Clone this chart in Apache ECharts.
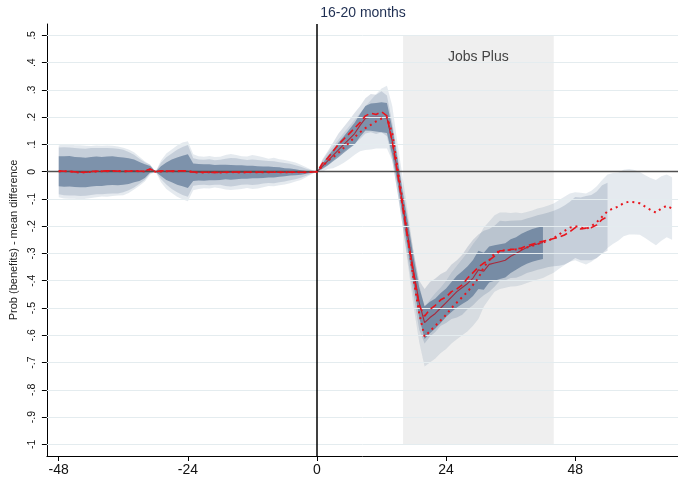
<!DOCTYPE html>
<html>
<head>
<meta charset="utf-8">
<script src="https://cdn.jsdelivr.net/npm/echarts@6/dist/echarts.min.js"></script>
<style>
  html, body { margin: 0; padding: 0; background: #fff; }
  #chart { width: 678px; height: 479px; }
</style>
</head>
<body>
<div id="chart"></div>
<script>
// Event-study estimates by month relative to event (month 0).
// Pre arrays cover months -48..-1, post arrays start at month 0.
const firstMonth = -48;
const xTicks = [-48, -24, 0, 24, 48];
const yTicks = [-1, -0.9, -0.8, -0.7, -0.6, -0.5, -0.4, -0.3, -0.2, -0.1, 0, 0.1, 0.2, 0.3, 0.4, 0.5];
const jobsPlus = { label: 'Jobs Plus', from: 16, to: 44, top: 0.5, bottom: -1 };

// Point estimates
const solidPre = [0.002,0.001,0.002,-0.001,-0.002,-0.003,0,0.002,0.001,0.003,0.004,0.002,0.002,0.002,0.003,0.001,0.002,0.009,
  0,0.002,0.002,0.003,0.002,0.003,0.002,
  -0.002,-0.002,-0.003,-0.002,-0.003,-0.002,-0.001,-0.002,-0.002,-0.001,-0.002,-0.001,-0.002,-0.002,-0.001,-0.002,-0.001,-0.002,-0.001,-0.002,-0.003,-0.002,-0.001];
const solidPost = [0,0.02,0.04,0.06,0.08,0.1,0.12,0.14,0.17,0.196,
  0.2,0.2,0.2,0.197,0.11,0,-0.13,-0.25,-0.37,-0.48,
  -0.554,-0.535,-0.52,-0.5,-0.48,-0.46,-0.44,-0.425,-0.41,-0.39,
  -0.36,-0.365,-0.34,-0.335,-0.33,-0.325,-0.31,-0.3,-0.288,-0.278,
  -0.27,-0.265,-0.26];

const dashedPre = [0.003,0.002,0.001,0,-0.002,-0.002,0.001,0.002,0.002,0.003,0.003,0.002,0.003,0.002,0.002,0.002,0.003,0.01,
  0,0.003,0.003,0.002,0.003,0.003,0.003,
  -0.001,-0.002,-0.002,-0.002,-0.003,-0.002,-0.002,-0.002,-0.001,-0.001,-0.002,-0.002,-0.002,-0.001,-0.001,-0.002,-0.002,-0.002,-0.001,-0.002,-0.002,-0.002,-0.001];
const dashedPost = [0,0.03,0.05,0.075,0.1,0.12,0.14,0.16,0.18,0.205,
  0.215,0.21,0.22,0.205,0.11,-0.01,-0.14,-0.26,-0.38,-0.49,
  -0.53,-0.505,-0.49,-0.47,-0.46,-0.44,-0.43,-0.415,-0.39,-0.37,
  -0.35,-0.335,-0.325,-0.31,-0.29,-0.29,-0.285,-0.284,-0.28,-0.272,
  -0.266,-0.26,-0.255,-0.25,-0.245,-0.24,-0.232,-0.22,-0.205,-0.21,
  -0.207,-0.205,-0.195,-0.175,-0.165];

const dottedPre = [0.001,0.002,0.001,-0.001,-0.003,-0.002,-0.001,0.001,0.002,0.002,0.003,0.003,0.001,0.002,0.003,0.002,0.001,0.008,
  0,0.001,0.002,0.002,0.002,0.003,0.002,
  -0.002,-0.003,-0.003,-0.002,-0.002,-0.003,-0.002,-0.001,-0.002,-0.003,-0.002,-0.001,-0.002,-0.002,-0.002,-0.001,-0.002,-0.002,-0.002,-0.001,-0.002,-0.002,-0.001];
const dottedPost = [0,0.02,0.04,0.053,0.07,0.088,0.107,0.127,0.145,0.16,
  0.172,0.185,0.195,0.2,0.14,0.01,-0.12,-0.26,-0.4,-0.52,
  -0.605,-0.585,-0.565,-0.545,-0.525,-0.5,-0.48,-0.46,-0.44,-0.415,
  -0.39,-0.35,-0.325,-0.3,-0.29,-0.288,-0.286,-0.285,-0.284,-0.278,
  -0.272,-0.265,-0.26,-0.252,-0.244,-0.23,-0.217,-0.205,-0.2,-0.205,
  -0.21,-0.2,-0.185,-0.165,-0.145,-0.135,-0.128,-0.115,-0.11,-0.112,
  -0.116,-0.128,-0.14,-0.15,-0.135,-0.125,-0.135];

// Confidence-interval half widths
const solidHalfPre = [0.055,0.056,0.056,0.055,0.055,0.054,0.054,0.054,0.053,0.053,0.053,0.052,0.05,0.047,0.042,0.035,0.025,0.012,
  0,0.018,0.032,0.042,0.05,0.056,0.062,
  0.032,0.03,0.03,0.029,0.028,0.028,0.027,0.027,0.026,0.025,0.024,0.023,0.022,0.021,0.02,0.019,0.017,0.015,0.013,0.011,0.008,0.005,0.003];
const solidHalfPost = [0,0.01,0.017,0.022,0.027,0.03,0.035,0.04,0.042,0.045,
  0.05,0.052,0.055,0.055,0.05,0.045,0.045,0.05,0.05,0.055,
  0.06,0.058,0.055,0.055,0.052,0.055,0.058,0.06,0.063,0.066,
  0.07,0.068,0.066,0.065,0.064,0.063,0.062,0.06,0.06,0.06,
  0.06,0.06,0.06];

const dashedHalfPre = [0.086,0.088,0.088,0.087,0.087,0.086,0.086,0.085,0.085,0.084,0.083,0.082,0.078,0.07,0.06,0.046,0.032,0.016,
  0,0.03,0.05,0.065,0.078,0.088,0.095,
  0.05,0.047,0.046,0.048,0.045,0.046,0.05,0.052,0.05,0.047,0.045,0.047,0.045,0.042,0.04,0.04,0.037,0.034,0.03,0.026,0.02,0.013,0.006];
const dashedHalfPost = [0,0.015,0.025,0.032,0.04,0.045,0.05,0.056,0.06,0.065,
  0.07,0.072,0.075,0.075,0.07,0.07,0.07,0.075,0.08,0.09,
  0.1,0.1,0.098,0.095,0.095,0.1,0.105,0.11,0.115,0.12,
  0.12,0.118,0.115,0.112,0.11,0.108,0.105,0.105,0.102,0.1,
  0.1,0.1,0.1,0.1,0.102,0.105,0.108,0.11,0.112,0.115,
  0.118,0.12,0.122,0.125,0.125];

const dottedHalfPre = [0.095,0.1,0.1,0.098,0.1,0.097,0.095,0.095,0.093,0.094,0.092,0.09,0.087,0.08,0.068,0.053,0.037,0.018,
  0,0.04,0.065,0.08,0.094,0.104,0.11,
  0.066,0.06,0.058,0.06,0.056,0.058,0.063,0.066,0.063,0.06,0.058,0.062,0.06,0.055,0.05,0.052,0.048,0.045,0.04,0.035,0.028,0.018,0.008];
const dottedHalfPost = [0,0.02,0.03,0.04,0.048,0.055,0.06,0.065,0.07,0.08,
  0.09,0.1,0.11,0.115,0.1,0.09,0.09,0.095,0.1,0.105,
  0.11,0.115,0.12,0.12,0.125,0.13,0.135,0.14,0.145,0.15,
  0.15,0.145,0.142,0.14,0.14,0.138,0.135,0.135,0.132,0.13,
  0.13,0.13,0.13,0.128,0.127,0.126,0.125,0.125,0.125,0.128,
  0.13,0.13,0.132,0.135,0.135,0.13,0.125,0.122,0.12,0.118,
  0.115,0.115,0.117,0.12,0.118,0.115,0.115];

const FONT = '"Liberation Sans", Arial, sans-serif';
const BAND_RGB = '45,80,120';

const solidEst = solidPre.concat(solidPost);
const dashedEst = dashedPre.concat(dashedPost);
const dottedEst = dottedPre.concat(dottedPost);
const solidHalf = solidHalfPre.concat(solidHalfPost);
const dashedHalf = dashedHalfPre.concat(dashedHalfPost);
const dottedHalf = dottedHalfPre.concat(dottedHalfPost);

function toPoints(est) {
  return est.map((v, i) => [firstMonth + i, v]);
}
function toBand(est, half) {
  return est.map((v, i) => [firstMonth + i, v - half[i], v + half[i]]);
}

// One filled polygon per confidence band, traced through the axis scales.
function bandSeries(name, est, half, alpha, z) {
  const data = toBand(est, half);
  return {
    type: 'custom', name, z, silent: true, data,
    encode: { x: 0, y: [1, 2] },
    renderItem(params, api) {
      if (params.dataIndex !== 0) return null;
      const upper = data.map(d => api.coord([d[0], d[2]]));
      const lower = data.map(d => api.coord([d[0], d[1]])).reverse();
      return {
        type: 'polygon',
        shape: { points: upper.concat(lower) },
        style: { fill: 'rgba(' + BAND_RGB + ',' + alpha + ')' }
      };
    }
  };
}

function lineSeries(name, est, color, width, dash, z) {
  return {
    type: 'line', name, z, data: toPoints(est),
    showSymbol: false, symbol: 'none', silent: true,
    lineStyle: { color, width, type: dash, cap: 'butt' }
  };
}

const fmtY = v => {
  if (Math.abs(v) < 1e-9) return '0';
  const a = Math.round(Math.abs(v) * 10);
  return (v < 0 ? '-' : '') + (a === 10 ? '1' : '.' + a);
};

const chart = echarts.init(document.getElementById('chart'), null, { renderer: 'canvas' });

chart.setOption({
  animation: false,
  backgroundColor: '#fff',
  title: {
    text: '16-20 months',
    left: 358, top: 1, textAlign: 'center',
    textStyle: { fontFamily: FONT, fontSize: 14, fontWeight: 'normal', color: '#1f2f52' }
  },
  grid: { left: 44, right: 0, top: 24, bottom: 23, containLabel: false },
  xAxis: {
    type: 'value', min: -50.2, max: 67.1,
    axisLine: { show: true, onZero: false, lineStyle: { color: '#000', width: 1 } },
    axisTick: { show: true, customValues: xTicks, length: 5, lineStyle: { color: '#000' } },
    axisLabel: { customValues: xTicks, fontFamily: FONT, fontSize: 14, color: '#111', margin: 7 },
    splitLine: { show: false }
  },
  yAxis: {
    type: 'value', min: -1.043, max: 0.542,
    name: 'Prob (benefits) - mean difference',
    nameLocation: 'middle', nameGap: 26,
    nameTextStyle: { fontFamily: FONT, fontSize: 11, color: '#222' },
    axisLine: { show: true, onZero: false, lineStyle: { color: '#000', width: 1 } },
    axisTick: { show: true, customValues: yTicks, length: 5, lineStyle: { color: '#000' } },
    axisLabel: { customValues: yTicks, rotate: 90, formatter: fmtY, fontFamily: FONT, fontSize: 10.5, color: '#111', margin: 9 },
    splitLine: { show: false }
  },
  series: [
    {
      type: 'line', name: 'program window', z: 0, data: [], silent: true,
      markArea: {
        silent: true,
        itemStyle: { color: '#efefef' },
        label: { show: true, position: 'insideTop', distance: 15, fontFamily: FONT, fontSize: 14, color: '#444' },
        data: [[
          { name: jobsPlus.label, xAxis: jobsPlus.from, yAxis: jobsPlus.top },
          { xAxis: jobsPlus.to, yAxis: jobsPlus.bottom }
        ]]
      }
    },
    {
      type: 'line', name: 'grid', z: 1, data: [], silent: true,
      markLine: {
        silent: true, symbol: ['none', 'none'], label: { show: false },
        lineStyle: { color: '#e4ecef', width: 1, type: 'solid' },
        data: yTicks.filter(v => v !== 0).map(v => ({ yAxis: v }))
      }
    },
    bandSeries('dotted band', dottedEst, dottedHalf, 0.12, 2),
    bandSeries('dashed band', dashedEst, dashedHalf, 0.17, 2),
    bandSeries('solid band', solidEst, solidHalf, 0.48, 2),
    {
      type: 'line', name: 'reference lines', z: 3, data: [], silent: true,
      markLine: {
        silent: true, symbol: ['none', 'none'], label: { show: false },
        data: [
          { yAxis: 0, lineStyle: { color: '#505050', width: 1.3, type: 'solid' } },
          { xAxis: 0, lineStyle: { color: '#000', width: 1.5, type: 'solid' } }
        ]
      }
    },
    lineSeries('solid', solidEst, '#a82a3c', 1.1, 'solid', 4),
    lineSeries('dashed', dashedEst, '#e8141c', 1.6, [7, 4], 5),
    lineSeries('dotted', dottedEst, '#e8141c', 2, [2, 4], 6)
  ]
});
</script>
</body>
</html>
